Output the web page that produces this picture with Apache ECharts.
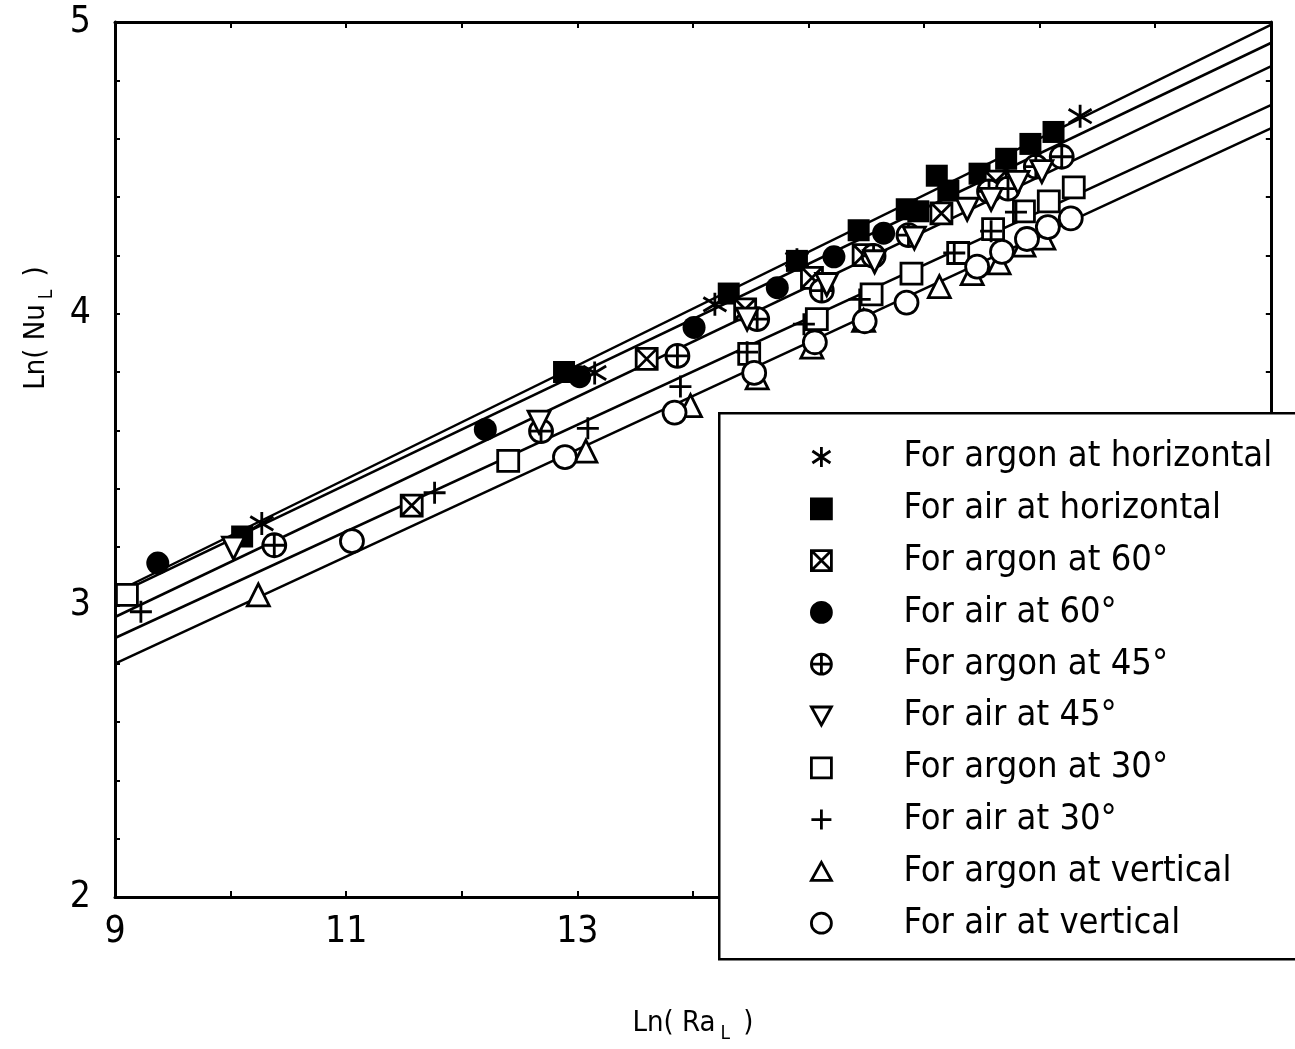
<!DOCTYPE html>
<html>
<head>
<meta charset="utf-8">
<title>Ln(Nu) vs Ln(Ra)</title>
<script src="https://cdn.jsdelivr.net/npm/echarts@6/dist/echarts.min.js"></script>
<style>
  html, body { margin: 0; padding: 0; background: #fff; }
  #chart { width: 1295px; height: 1049px; }
</style>
</head>
<body>
<div id="chart"></div>
<script>
// Measured points: [Ln(Ra_L), Ln(Nu_L)]
const argonHorizontal = [[10.27,3.281],[13.15,3.797],[14.19,4.032],[14.90,4.185],[17.35,4.677]];
const airHorizontal = [[10.10,3.236],[12.885,3.800],[14.31,4.069],[14.90,4.181],[15.434,4.286],[15.85,4.358],[15.95,4.351],[16.11,4.473],[16.21,4.422],[16.48,4.480],[16.71,4.531],[16.92,4.582],[17.12,4.623]];
const argon60 = [[11.567,3.342],[13.60,3.845],[14.452,4.015],[15.03,4.123],[15.477,4.201],[16.15,4.344],[16.62,4.453]];
const air60 = [[9.37,3.145],[12.204,3.603],[13.02,3.784],[14.01,3.953],[14.73,4.089],[15.22,4.195],[15.65,4.276]];
const argon45 = [[10.378,3.206],[12.686,3.597],[13.866,3.855],[14.556,3.981],[15.115,4.079],[15.563,4.198],[15.865,4.269],[16.562,4.419],[16.726,4.429],[16.967,4.504],[17.191,4.538]];
const air45 = [[10.025,3.196],[12.669,3.628],[14.469,3.981],[15.158,4.100],[15.572,4.178],[15.916,4.259],[16.373,4.358],[16.58,4.392],[16.812,4.450],[17.019,4.487]];
const argon30 = [[9.103,3.036],[12.402,3.495],[14.487,3.862],[15.072,3.981],[15.546,4.066],[15.891,4.137],[16.295,4.208],[16.597,4.290],[16.864,4.351],[17.079,4.385],[17.295,4.433]];
const air30 = [[9.224,2.978],[11.765,3.386],[13.091,3.607],[13.892,3.750],[14.469,3.868],[14.960,3.964],[15.443,4.049],[16.261,4.208],[16.580,4.283],[16.795,4.348]];
const argonVertical = [[10.24,3.036],[13.074,3.529],[13.979,3.685],[14.556,3.780],[15.029,3.885],[15.477,3.977],[16.132,4.093],[16.416,4.137],[16.649,4.174],[16.864,4.235],[17.036,4.259]];
const airVertical = [[11.05,3.220],[12.893,3.508],[13.841,3.661],[14.530,3.797],[15.055,3.902],[15.486,3.974],[15.848,4.038],[16.459,4.161],[16.674,4.212],[16.890,4.256],[17.071,4.297],[17.269,4.327]];

// Correlation lines, end points at the axis limits
const fitHorizontal = [[9,3.044],[19,4.99]];
const fit60 = [[9,3.035],[19,4.928]];
const fit45 = [[9,2.96],[19,4.848]];
const fit30 = [[9,2.888],[19,4.715]];
const fitVertical = [[9,2.80],[19,4.635]];

const xTicks = [9, 11, 13, 15, 17, 19];
const yTicks = [2, 3, 4, 5];

const seriesNames = [
  'For argon at horizontal', 'For air at horizontal', 'For argon at 60°', 'For air at 60°',
  'For argon at 45°', 'For air at 45°', 'For argon at 30°', 'For air at 30°',
  'For argon at vertical', 'For air at vertical'
];

const FONT = "'Liberation Sans Narrow','DejaVu Sans Condensed','Arial Narrow',sans-serif";

const SYM = {
  asterisk: 'path://M0,-10L0,10M-9,-6L9,6M-9,6L9,-6',
  boxX: 'path://M0,0L10,0L10,10L0,10ZM0,0L10,10M10,0L0,10',
  circlePlus: 'path://M10,5A5,5,0,1,1,0,5A5,5,0,1,1,10,5ZM5,0L5,10M0,5L10,5',
  triDown: 'path://M0,0L10,0L5,9Z',
  triUp: 'path://M5,0L10,9L0,9Z',
  plus: 'path://M5,0L5,10M0,5L10,5'
};

function scatter(name, data, symbol, size, filled, stroke) {
  return {
    type: 'scatter', name: name, data: data, symbol: symbol, symbolSize: size, z: 3,
    itemStyle: {
      color: filled ? '#000' : (stroke ? 'rgba(0,0,0,0)' : '#fff'),
      borderColor: '#000', borderWidth: filled ? 0 : 2.8, opacity: 1
    },
    emphasis: { disabled: true }
  };
}

function fitLine(data) {
  return {
    type: 'line', data: data, showSymbol: false, symbol: 'none', z: 2, silent: true,
    lineStyle: { color: '#000', width: 2.5 }
  };
}

const isTick = (arr, v) => arr.some(t => Math.abs(t - v) < 1e-6);

const titleRich = {
  a: { fontFamily: FONT, fontSize: 29, color: '#000' },
  s: { fontFamily: FONT, fontSize: 19, color: '#000', padding: [22, 5, 0, 5] }
};

const chart = echarts.init(document.getElementById('chart'), null, { renderer: 'canvas' });

chart.setOption({
  backgroundColor: '#fff',
  animation: false,
  grid: { left: 115, top: 22, right: 19, bottom: 144 },
  xAxis: [{
    type: 'value', min: 9, max: 19, interval: 1, position: 'bottom',
    name: '{a|Ln( Ra}{s|L}{a| )}', nameLocation: 'middle', nameGap: 106,
    nameTextStyle: { rich: titleRich },
    axisLine: { lineStyle: { color: '#000', width: 3 } },
    axisTick: { inside: true, length: 6, lineStyle: { color: '#000', width: 2 } },
    splitLine: { show: false },
    axisLabel: {
      fontFamily: FONT, fontSize: 37, color: '#000', margin: 17,
      formatter: v => isTick(xTicks, v) ? String(v) : ''
    }
  }, {
    type: 'value', min: 9, max: 19, interval: 1, position: 'top',
    axisLine: { lineStyle: { color: '#000', width: 3 } },
    axisTick: { inside: true, length: 6, lineStyle: { color: '#000', width: 2 } },
    axisLabel: { show: false }, splitLine: { show: false }
  }],
  yAxis: [{
    type: 'value', min: 2, max: 5, interval: 0.2, position: 'left',
    axisLine: { lineStyle: { color: '#000', width: 3 } },
    axisTick: { inside: true, length: 5, lineStyle: { color: '#000', width: 2 } },
    splitLine: { show: false },
    axisLabel: {
      fontFamily: FONT, fontSize: 37, color: '#000', margin: 24,
      formatter: v => isTick(yTicks, v) ? String(Math.round(v)) : ''
    }
  }, {
    type: 'value', min: 2, max: 5, interval: 0.2, position: 'right',
    axisLine: { lineStyle: { color: '#000', width: 3 } },
    axisTick: { inside: true, length: 5, lineStyle: { color: '#000', width: 2 } },
    axisLabel: { show: false }, splitLine: { show: false }
  }],
  legend: {
    data: seriesNames,
    orient: 'vertical', left: 805, top: 432, z: 10,
    itemWidth: 20, itemHeight: 20, itemGap: 11.8,
    selectedMode: false,
    itemStyle: { borderWidth: 2.8 },
    textStyle: { fontFamily: FONT, fontSize: 36, color: '#000', lineHeight: 40, padding: [0, 0, 0, 67] }
  },
  graphic: [{
    type: 'rect', left: 718, top: 412, z: 8,
    shape: { width: 620, height: 546 },
    style: { fill: '#fff', stroke: '#000', lineWidth: 2.5 }
  }, {
    type: 'text', x: 36, y: 328, rotation: Math.PI / 2, z: 8,
    style: { text: '{a|Ln( Nu}{s|L}{a| )}', rich: titleRich, align: 'center', verticalAlign: 'middle' }
  }],
  series: [
    fitLine(fitHorizontal), fitLine(fit60), fitLine(fit45), fitLine(fit30), fitLine(fitVertical),
    scatter(seriesNames[0], argonHorizontal, SYM.asterisk, 23, false, true),
    scatter(seriesNames[1], airHorizontal, 'rect', 22, true),
    scatter(seriesNames[2], argon60, SYM.boxX, 21, false),
    scatter(seriesNames[3], air60, 'circle', 23, true),
    scatter(seriesNames[4], argon45, SYM.circlePlus, 23, false),
    scatter(seriesNames[5], air45, SYM.triDown, 22, false),
    scatter(seriesNames[6], argon30, 'rect', 21, false),
    scatter(seriesNames[7], air30, SYM.plus, 22, false, true),
    scatter(seriesNames[8], argonVertical, SYM.triUp, 22, false),
    scatter(seriesNames[9], airVertical, 'circle', 23, false)
  ]
});
</script>
</body>
</html>
